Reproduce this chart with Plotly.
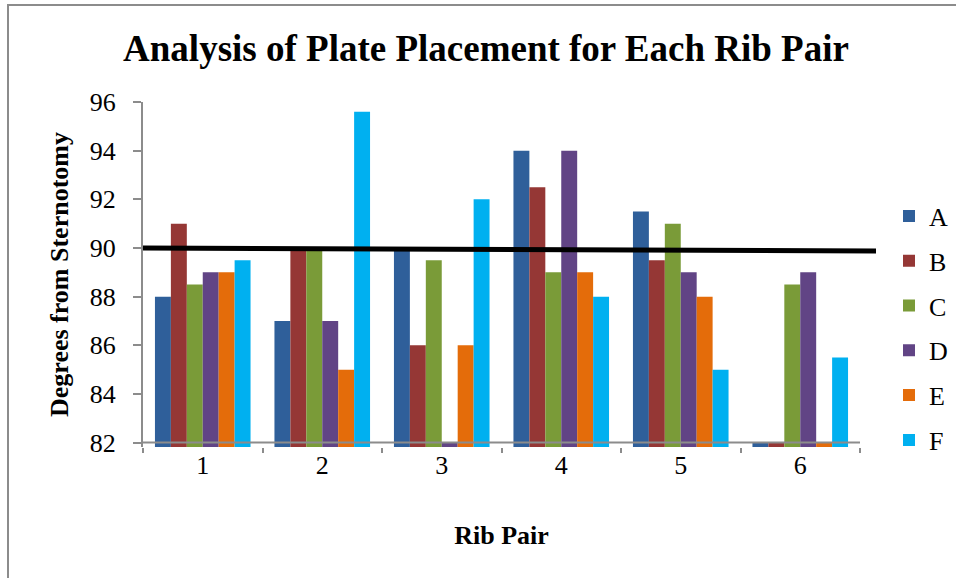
import plotly.graph_objects as go

# ---- data ----
rib_pairs = ["1", "2", "3", "4", "5", "6"]
series_names = ["A", "B", "C", "D", "E", "F"]
A = [88, 87, 90, 94, 91.5, 82]
B = [91, 90, 86, 92.5, 89.5, 82]
C = [88.5, 90, 89.5, 89, 91, 88.5]
D = [89, 87, 82, 94, 89, 89]
E = [89, 85, 86, 89, 88, 82]
F = [89.5, 95.6, 92, 88, 85, 85.5]
series_values = [A, B, C, D, E, F]
series_colors = ["#2F5F9A", "#953735", "#7A9B38", "#614485", "#E46C0A", "#00B0F0"]
y_ticks = [82, 84, 86, 88, 90, 92, 94, 96]
reference_line = [90, 89.88]  # hand-drawn line, left and right ends

fig = go.Figure()
for i, (name, vals, col) in enumerate(zip(series_names, series_values, series_colors)):
    fig.add_trace(go.Bar(
        x=rib_pairs, y=vals, name=name, legendgroup=name,
        marker=dict(color=col, line=dict(width=0)),
    ))

L, R, T, B_ = 143, 96, 102, 131
W, H = 956, 578
pw, ph = W - L - R, H - T - B_

def px_x(px):
    return (px - L) / pw

def px_y(py):
    return (H - B_ - py) / ph

fig.update_layout(
    width=W, height=H,
    margin=dict(l=L, r=R, t=T, b=B_, autoexpand=False),
    paper_bgcolor="white", plot_bgcolor="white",
    barmode="group", bargap=0.2, bargroupgap=0,
    font=dict(family="Liberation Serif", size=26, color="black"),
    title=dict(
        text="<b>Analysis of Plate Placement for Each Rib Pair</b>",
        font=dict(family="Liberation Serif", size=37, color="black"),
        x=486 / W, xanchor="center", y=1 - 48 / H, yanchor="middle",
    ),
    showlegend=True,
    legend=dict(
        x=px_x(889), xanchor="left", y=px_y(328), yanchor="middle",
        font=dict(size=26), tracegroupgap=8, itemwidth=30,
        bgcolor="rgba(0,0,0,0)",
    ),
    xaxis=dict(
        type="category", showline=False, showgrid=False, zeroline=False,
        ticks="outside", tickson="boundaries", ticklen=5, tickwidth=2,
        tickcolor="#8C8C8C",
        title=dict(text="<b>Rib Pair</b>", font=dict(size=26), standoff=46),
    ),
    yaxis=dict(
        range=[81.82, 96], tickvals=y_ticks, showgrid=False, zeroline=False,
        showline=True, linecolor="#8C8C8C", linewidth=2,
        ticks="outside", ticklen=8, tickwidth=2, tickcolor="#8C8C8C",
        ticklabelstandoff=12,
        title=dict(text="<b>Degrees from Sternotomy</b>", font=dict(size=26), standoff=14),
    ),
    shapes=[
        # category axis line at the axis minimum
        dict(type="line", xref="paper", yref="y", x0=0, x1=1,
             y0=y_ticks[0], y1=y_ticks[0], line=dict(color="#8C8C8C", width=2), layer="above"),
        # drawn 90-degree line
        dict(type="line", xref="paper", yref="y", x0=0, x1=px_x(876),
             y0=reference_line[0], y1=reference_line[1],
             line=dict(color="black", width=5), layer="above"),
        # chart frame
        dict(type="rect", xref="paper", yref="paper",
             x0=px_x(8), x1=px_x(966), y0=px_y(5), y1=px_y(590),
             line=dict(color="#8C8C8C", width=2), layer="below"),
    ],
)

fig.write_html("out.html", config={"displayModeBar": False},
               post_script="document.body.style.margin='0px';")
